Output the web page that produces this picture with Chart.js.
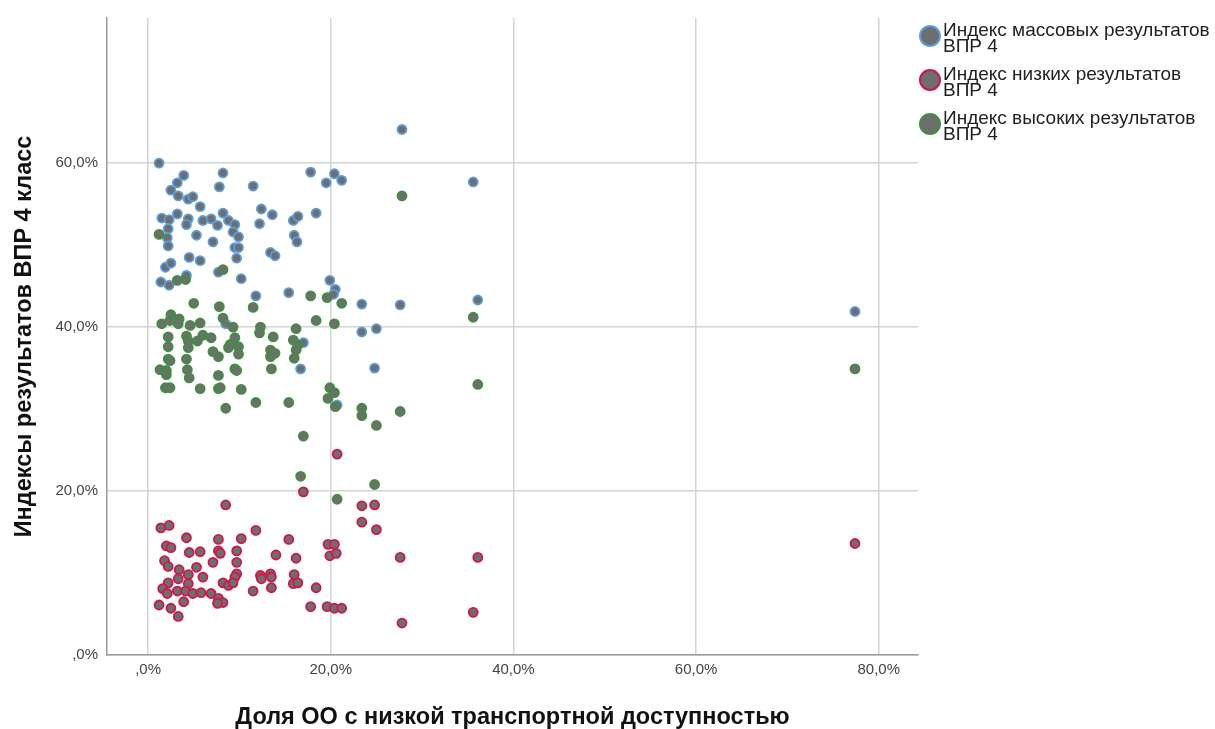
<!DOCTYPE html>
<html>
<head>
<meta charset="utf-8">
<script src="https://cdn.jsdelivr.net/npm/chart.js@4"></script>
<style>
  html, body { margin: 0; padding: 0; background: #fff; }
  #wrap { width: 1215px; height: 729px; }
</style>
</head>
<body>
<div id="wrap"><canvas id="myChart" width="1215" height="729"></canvas></div>
<script>
// Индекс массовых результатов ВПР 4
const massX = [1.2,3.9,8.2,3.2,7.8,11.5,2.5,3.3,4.4,4.9,5.7,12.4,13.6,1.5,2.3,3.2,4.4,4.2,6.0,6.9,
  7.6,8.2,8.8,9.5,12.2,2.2,2.1,2.2,5.3,7.1,9.3,9.9,9.5,9.9,9.7,13.4,13.9,4.5,5.7,1.9,
  2.5,7.7,4.2,10.2,1.4,2.3,11.8,27.8,17.8,20.4,19.5,21.2,35.6,15.9,16.4,18.4,16.0,16.3,19.9,20.5,
  20.3,15.4,23.4,27.6,36.1,23.4,25.0,17.0,16.7,24.8,20.7,77.4,8.5];
const massY = [60.0,58.5,58.8,57.6,57.1,57.2,56.7,56.0,55.6,55.9,54.7,54.4,53.7,53.3,53.1,53.8,53.2,52.5,53.0,53.2,
  52.4,53.9,53.0,52.5,52.6,52.0,50.9,49.9,51.2,50.4,51.6,51.0,49.7,49.7,48.4,49.1,48.7,48.5,48.1,47.3,
  47.8,46.7,46.3,45.9,45.5,45.1,43.8,64.1,58.9,58.7,57.6,57.9,57.7,53.0,53.5,53.9,51.2,50.4,45.7,44.6,
  44.0,44.2,42.8,42.7,43.3,39.4,39.8,38.1,34.9,35.0,30.5,41.9,40.4];

// Индекс низких результатов ВПР 4
const lowX = [8.5,1.4,2.3,4.2,7.7,10.2,11.8,2.0,2.5,4.5,5.7,7.7,7.9,9.7,14.0,1.8,2.2,3.4,5.3,7.1,
  9.7,9.7,4.4,6.0,2.2,3.3,4.4,9.5,8.2,8.8,9.3,12.3,12.4,13.4,13.5,13.5,1.6,2.1,3.2,4.1,
  4.9,5.8,6.9,7.7,8.2,7.6,3.9,11.5,1.2,2.5,3.3,20.7,17.0,23.4,24.8,23.4,25.0,15.4,19.7,20.4,
  19.9,20.6,16.2,27.6,36.1,16.0,15.9,16.4,18.4,17.8,19.6,20.4,21.2,35.6,27.8,77.4];
const lowY = [18.3,15.5,15.8,14.3,14.1,14.2,15.2,13.3,13.1,12.5,12.6,12.7,12.4,12.7,12.2,11.5,10.8,10.4,10.7,11.3,
  11.3,9.9,9.8,9.5,8.8,9.3,8.7,9.5,8.8,8.5,8.8,9.7,9.3,9.9,9.5,8.2,8.1,7.5,7.8,7.8,
  7.5,7.6,7.5,6.9,6.4,6.3,6.5,7.8,6.1,5.7,4.7,24.5,19.9,18.2,18.3,16.2,15.3,14.1,13.5,13.5,
  12.1,12.4,11.8,11.9,11.9,9.8,8.7,8.8,8.2,5.9,5.9,5.7,5.7,5.2,3.9,13.6];

// Индекс высоких результатов ВПР 4
const highX = [1.2,8.2,4.1,3.2,5.0,7.8,11.5,2.5,1.5,3.4,3.3,2.4,4.6,5.7,8.2,9.3,12.3,12.2,13.7,2.2,
  4.2,6.0,6.9,4.4,5.4,9.5,9.0,2.2,4.4,8.8,9.9,9.9,7.1,7.7,13.4,13.4,13.9,2.2,2.4,4.2,
  1.3,2.0,2.0,4.3,4.5,9.5,9.7,13.5,7.7,1.9,2.4,5.7,7.7,7.9,10.2,11.8,8.5,17.8,19.6,21.2,
  18.4,20.4,16.2,35.6,15.9,16.4,16.2,16.0,36.1,19.9,20.4,19.7,20.5,15.4,23.4,23.4,25.0,27.6,17.0,16.7,
  24.8,20.7,27.8,77.4];
const highY = [51.3,47.0,45.8,45.7,42.9,42.5,42.4,41.5,40.4,41.0,40.4,40.8,40.2,40.5,41.1,40.0,40.0,39.3,38.8,38.8,
  38.9,39.0,38.7,38.3,38.3,38.7,37.9,37.6,37.5,37.5,37.6,36.7,37.0,36.4,37.2,36.4,36.8,36.1,35.9,36.1,
  34.8,34.7,34.2,34.8,33.8,34.9,34.7,34.9,34.1,32.6,32.6,32.5,32.5,32.6,32.4,30.8,30.1,43.8,43.6,42.9,
  40.8,40.4,39.8,41.2,38.4,37.8,37.2,36.2,33.0,32.6,32.0,31.3,30.3,30.8,30.1,29.2,28.0,29.7,26.7,21.8,
  20.8,19.0,56.0,34.9];

const seriesNames = [
  ['Индекс массовых результатов', 'ВПР 4'],
  ['Индекс низких результатов', 'ВПР 4'],
  ['Индекс высоких результатов', 'ВПР 4']
];
const xTitle = 'Доля ОО с низкой транспортной доступностью';
const yTitle = 'Индексы результатов ВПР 4 класс';

const FONT = '"Liberation Sans", Arial, sans-serif';
const fillGray = '#6e6e6e';
const borderColors = ['#5b9ee0', '#d2164a', '#3f8f3f'];

const toPoints = (xs, ys) => xs.map((x, i) => ({ x: x, y: ys[i] }));

const pctLabel = value => {
  if (value === 0) return ',0%';
  return value.toFixed(1).replace('.', ',') + '%';
};

// legend drawn by hand: two-line labels next to big circles
const sideLegend = {
  id: 'sideLegend',
  afterDraw(chart) {
    const c = chart.ctx;
    const circleY = [36, 80, 124];
    c.save();
    c.font = '19px ' + FONT;
    c.textBaseline = 'middle';
    c.textAlign = 'left';
    for (let i = 0; i < seriesNames.length; i++) {
      c.beginPath();
      c.arc(930, circleY[i], 10, 0, Math.PI * 2);
      c.fillStyle = fillGray;
      c.fill();
      c.lineWidth = 2;
      c.strokeStyle = borderColors[i];
      c.stroke();
      c.fillStyle = '#222';
      c.fillText(seriesNames[i][0], 943, circleY[i] - 5);
      c.fillText(seriesNames[i][1], 943, circleY[i] + 11);
    }
    c.restore();
  }
};

const ctx = document.getElementById('myChart');

const chart = new Chart(ctx, {
  type: 'scatter',
  data: {
    datasets: [{
      label: seriesNames[0].join(' '),
      data: toPoints(massX, massY),
      backgroundColor: fillGray,
      borderColor: borderColors[0],
      order: 2
    },
    {
      label: seriesNames[1].join(' '),
      data: toPoints(lowX, lowY),
      backgroundColor: fillGray,
      borderColor: borderColors[1],
      order: 1
    },
    {
      label: seriesNames[2].join(' '),
      data: toPoints(highX, highY),
      backgroundColor: fillGray,
      borderColor: borderColors[2],
      order: 0
    }]
  },
  options: {
    responsive: false,
    animation: false,
    events: [],
    elements: {
      point: { radius: 4.5, borderWidth: 1.8, hoverRadius: 4.5 }
    },
    layout: { padding: { top: 14, right: 297, left: 0, bottom: 0 } },
    plugins: {
      legend: { display: false },
      tooltip: { enabled: false }
    },
    scales: {
      x: {
        type: 'linear',
        min: -4.5,
        max: 84.3,
        afterFit: scale => { scale.height = 74; },
        border: { color: '#9a9a9a', width: 1.5 },
        grid: { color: '#d4d4d4', lineWidth: 1.5, drawTicks: false },
        ticks: {
          stepSize: 20,
          includeBounds: false,
          padding: 6,
          color: '#444',
          font: { family: FONT, size: 15 },
          callback: pctLabel
        },
        title: {
          display: true,
          text: xTitle,
          color: '#111',
          font: { family: FONT, size: 23.5, weight: 'bold', lineHeight: 1.0 },
          padding: { top: 0, bottom: 0 }
        }
      },
      y: {
        type: 'linear',
        min: 0,
        max: 77.7,
        afterFit: scale => { scale.width = 107; },
        border: { color: '#9a9a9a', width: 1.5 },
        grid: { color: '#d4d4d4', lineWidth: 1.5, drawTicks: false },
        ticks: {
          stepSize: 20,
          includeBounds: false,
          padding: 9,
          color: '#444',
          font: { family: FONT, size: 15 },
          callback: pctLabel
        },
        title: {
          display: true,
          text: yTitle,
          color: '#111',
          font: { family: FONT, size: 23.5, weight: 'bold' },
          padding: { top: 10, bottom: 0 }
        }
      }
    }
  },
  plugins: [sideLegend]
});
</script>
</body>
</html>
